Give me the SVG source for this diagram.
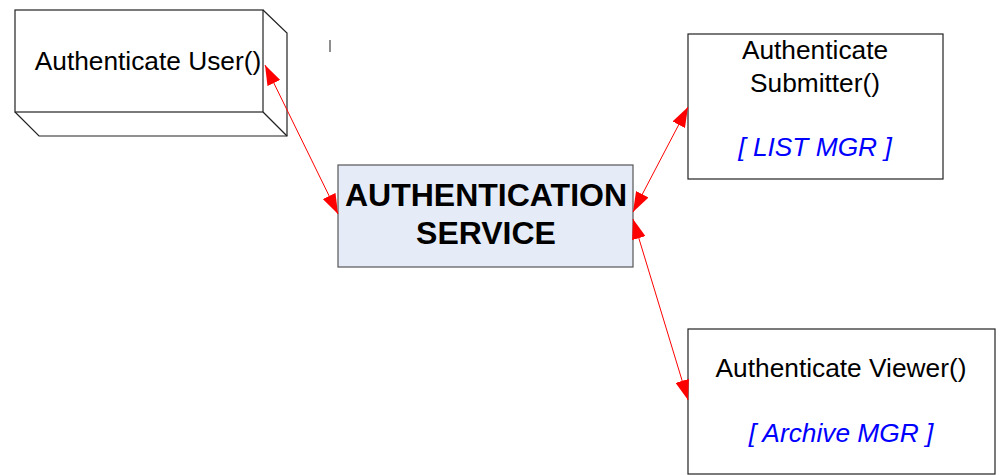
<svg xmlns="http://www.w3.org/2000/svg" width="1005" height="475" viewBox="0 0 1005 475">
<style>
.box{fill:#fff;stroke:#222;stroke-width:1.2}
.t{font-family:"Liberation Sans",Arial,sans-serif;font-size:26.3px;fill:#000}
.b{font-family:"Liberation Sans",Arial,sans-serif;font-size:32px;font-weight:bold;fill:#000}
.i{font-family:"Liberation Sans",Arial,sans-serif;font-size:26.3px;font-style:italic;fill:#0000ff}
.c{stroke:#ff0000;stroke-width:1;fill:none;marker-start:url(#ah);marker-end:url(#ah)}
</style>
<defs>
<marker id="ah" markerUnits="userSpaceOnUse" markerWidth="20" markerHeight="14" refX="20" refY="7" orient="auto-start-reverse" viewBox="0 0 20 14">
<path d="M0,0 L20,7 L0,14 z" fill="#ff0000"/>
</marker>
</defs>
<rect width="1005" height="475" fill="#fff"/>
<g id="user">
<path class="box" d="M263,10 L287,33 L287,136 L39,136 L15,112"/>
<path class="box" d="M263,112 L287,136"/>
<rect class="box" x="15" y="10" width="248" height="102"/>
<text class="t" x="148" y="70" text-anchor="middle">Authenticate User()</text>
</g>
<line x1="330" y1="40" x2="330" y2="52" stroke="#444" stroke-width="1.2"/>
<g id="service">
<rect x="338" y="165" width="295" height="102" fill="#e6ecf7" stroke="#555" stroke-width="1.2"/>
<text class="b" x="486" y="206" text-anchor="middle">AUTHENTICATION</text>
<text class="b" x="486" y="244" text-anchor="middle">SERVICE</text>
</g>
<g id="submitter">
<rect class="box" x="688" y="34" width="255" height="145"/>
<text class="t" x="815" y="59" text-anchor="middle">Authenticate</text>
<text class="t" x="815" y="92" text-anchor="middle">Submitter()</text>
<text class="i" x="815" y="156" text-anchor="middle">[ LIST MGR ]</text>
</g>
<g id="viewer">
<rect class="box" x="688" y="329" width="307" height="145"/>
<text class="t" x="841" y="377" text-anchor="middle">Authenticate Viewer()</text>
<text class="i" x="841" y="442" text-anchor="middle">[ Archive MGR ]</text>
</g>
<g id="connectors">
<line class="c" x1="265" y1="65" x2="338" y2="214"/>
<line class="c" x1="633" y1="212" x2="688" y2="107"/>
<line class="c" x1="633" y1="219" x2="688" y2="400"/>
</g>
</svg>
